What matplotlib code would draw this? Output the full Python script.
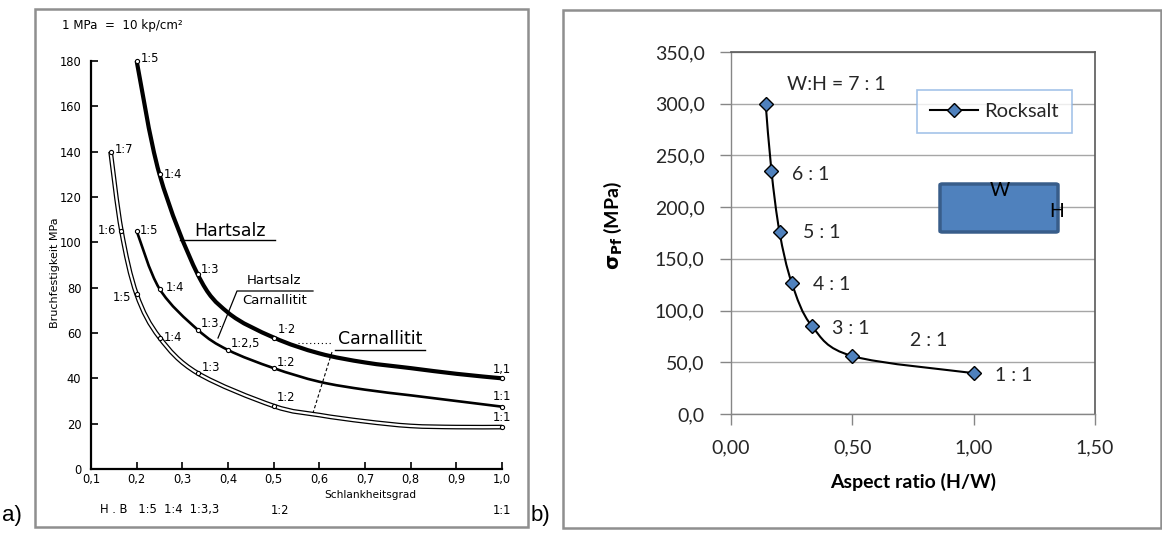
import numpy as np
import matplotlib
matplotlib.use("Agg")
import matplotlib.pyplot as plt
from matplotlib.path import Path
from matplotlib.patches import PathPatch, Rectangle, FancyBboxPatch
from matplotlib.lines import Line2D

W, H, DPI = 1162, 533, 100

# ---------------- data: panel a) (scanned chart) ----------------
a_xticks = [0.1, 0.2, 0.3, 0.4, 0.5, 0.6, 0.7, 0.8, 0.9, 1.0]
a_xticklabels = ["0,1", "0,2", "0,3", "0,4", "0,5", "0,6", "0,7", "0,8", "0,9", "1,0"]
a_yticks = [0, 20, 40, 60, 80, 100, 120, 140, 160, 180]

hart_x = [0.2, 0.25, 1/3, 0.4, 0.5, 0.6, 0.7, 0.8, 0.9, 1.0]
hart_y = [180, 130, 86, 69, 58, 51, 47, 44.5, 42, 40]
hart_lbl = ["1:5", "1:4", "1:3", "", "1·2", "", "", "", "", "1,1"]

hc_x = [0.2, 0.25, 1/3, 0.4, 0.5, 0.6, 0.7, 0.8, 0.9, 1.0]
hc_y = [105, 79.5, 61.5, 52.5, 44.5, 38.5, 35, 32.5, 30, 27.5]
hc_lbl = ["1:5", "1:4", "1:3.", "1:2,5", "1:2", "", "", "", "", "1:1"]

carn_x = [1/7, 1/6, 0.2, 0.25, 1/3, 0.5, 0.6, 0.7, 0.8, 0.9, 1.0]
carn_y = [140, 105, 77, 58, 42.3, 27.8, 23.8, 21, 19, 18.5, 18.5]
carn_lbl = ["1:7", "1:6", "1:5", "1:4", "1:3", "1:2", "", "", "", "", "1:1"]

# ---------------- data: panel b) (Excel chart) ----------------
b_aspect = [1/7, 1/6, 1/5, 1/4, 1/3, 1/2, 1.0]
b_strength = [300, 235, 176, 127, 85, 56, 39.5]
b_labels = ["W:H = 7 : 1", "6 : 1", "5 : 1", "4 : 1", "3 : 1", "2 : 1", "1 : 1"]
b_yticks = [0, 50, 100, 150, 200, 250, 300, 350]
b_xticks = [0.0, 0.5, 1.0, 1.5]
series_name = "Rocksalt"


def fx(x):
    return x / W


def fy(y):
    return 1 - y / H


def smooth_path(xs, ys):
    pts = np.column_stack([xs, ys]).astype(float)
    n = len(pts)
    verts = [pts[0]]
    codes = [Path.MOVETO]
    for i in range(n - 1):
        p0 = pts[i - 1] if i > 0 else pts[i]
        p1 = pts[i]
        p2 = pts[i + 1]
        p3 = pts[i + 2] if i + 2 < n else pts[i + 1]
        verts += [p1 + (p2 - p0) / 6, p2 - (p3 - p1) / 6, p2]
        codes += [Path.CURVE4] * 3
    return Path(verts, codes)


fig = plt.figure(figsize=(W / DPI, H / DPI), dpi=DPI)
fig.patch.set_facecolor("white")

# panel frames
fig.add_artist(Rectangle((fx(35), fy(527)), fx(528 - 35), (527 - 9) / H,
                         transform=fig.transFigure, fill=False,
                         edgecolor="#8f8f8f", lw=1.8))
fig.add_artist(Rectangle((fx(563), fy(528)), fx(1161 - 563), (528 - 10) / H,
                         transform=fig.transFigure, fill=False,
                         edgecolor="#8f8f8f", lw=1.8))

# ================= panel a) =================
SC = "DejaVu Sans"
FS = 8.3
axa = fig.add_axes([fx(91), fy(469), fx(502 - 91), (469 - 61) / H])
axa.set_xlim(0.1, 1.0)
axa.set_ylim(0, 180)
for s in ["top", "right"]:
    axa.spines[s].set_visible(False)
for s in ["left", "bottom"]:
    axa.spines[s].set_linewidth(1.6)
    axa.spines[s].set_color("black")
axa.set_xticks(a_xticks)
axa.set_xticklabels(a_xticklabels, fontsize=FS, family=SC)
axa.set_yticks(a_yticks)
axa.set_yticklabels([str(v) for v in a_yticks], fontsize=FS, family=SC)
axa.tick_params(direction="in", length=5, width=1.2, pad=7)
axa.tick_params(axis="x", pad=3)
axa.patch.set_alpha(0)

# curves
axa.add_patch(PathPatch(smooth_path(hart_x, hart_y), fill=False, lw=3.0,
                        edgecolor="black", transform=axa.transData, clip_on=False))
axa.add_patch(PathPatch(smooth_path(hc_x, hc_y), fill=False, lw=1.9,
                        edgecolor="black", transform=axa.transData, clip_on=False))
axa.add_patch(PathPatch(smooth_path(carn_x, carn_y), fill=False, lw=3.4,
                        edgecolor="black", transform=axa.transData, clip_on=False))
axa.add_patch(PathPatch(smooth_path(carn_x, carn_y), fill=False, lw=1.6,
                        edgecolor="white", transform=axa.transData, clip_on=False))

hart_off = [(4, 2, "left"), (4, 0, "left"), (3, 5, "left"), None, (4, 8, "left"),
            None, None, None, None, (0, 9, "center")]
hc_off = [(3, 1, "left"), (6, 1, "left"), (3, 6, "left"), (3, 7, "left"),
          (3, 6, "left"), None, None, None, None, (0, 10, "center")]
carn_off = [(4, 2, "left"), (-5, 0, "right"), (-5, -3, "right"), (4, 0, "left"),
            (4, 6, "left"), (3, 8, "left"), None, None, None, None, (0, 10, "center")]

for xs, ys, lbls, offs in [(hart_x, hart_y, hart_lbl, hart_off),
                           (hc_x, hc_y, hc_lbl, hc_off),
                           (carn_x, carn_y, carn_lbl, carn_off)]:
    for x, y, t, o in zip(xs, ys, lbls, offs):
        if not t:
            continue
        axa.plot([x], [y], marker="o", ms=3, mfc="white", mec="black", mew=0.8,
                 clip_on=False, zorder=5)
        axa.annotate(t, (x, y), xytext=(o[0], o[1]), textcoords="offset pixels",
                     ha=o[2], va="center", fontsize=FS, family=SC,
                     annotation_clip=False)

# panel a) annotations (figure pixel coords)
fig.text(fx(62), fy(25), "1 MPa  =  10 kp/cm²", fontsize=8.6, family=SC,
         va="center", ha="left")
fig.text(fx(55), fy(273), "Bruchfestigkeit MPa", rotation=90, fontsize=8,
         family=SC, ha="center", va="center")
fig.text(fx(370), fy(495), "Schlankheitsgrad", fontsize=7.6, family=SC,
         ha="center", va="center")
fig.text(fx(100), fy(510), "H . B   1:5  1:4  1:3,3", fontsize=FS, family=SC,
         ha="left", va="center")
fig.text(fx(280), fy(510), "1:2", fontsize=FS, family=SC, ha="center", va="center")
fig.text(fx(502), fy(510), "1:1", fontsize=FS, family=SC, ha="center", va="center")

fig.text(fx(230), fy(231), "Hartsalz", fontsize=12.5, family=SC, ha="center",
         va="center")
fig.add_artist(Line2D([fx(180), fx(275)], [fy(240), fy(240)], color="black", lw=1.0))
fig.text(fx(274), fy(281), "Hartsalz", fontsize=9.5, family=SC, ha="center",
         va="center")
fig.text(fx(275), fy(301), "Carnallitit", fontsize=9.5, family=SC, ha="center",
         va="center")
fig.add_artist(Line2D([fx(313), fx(237), fx(218)], [fy(291), fy(291), fy(338)],
                      color="black", lw=0.9))
fig.text(fx(380), fy(339), "Carnallitit", fontsize=12.5, family=SC, ha="center",
         va="center")
fig.add_artist(Line2D([fx(335), fx(425)], [fy(350), fy(350)], color="black", lw=1.0))
fig.add_artist(Line2D([fx(332), fx(313)], [fy(352), fy(413)], color="black", lw=0.8,
                      ls=(0, (3, 2))))
fig.add_artist(Line2D([fx(298), fx(333)], [fy(343), fy(343)], color="black", lw=0.8,
                      ls=(0, (1, 2.5))))

fig.text(fx(2), fy(516), "a)", fontsize=16, family="Liberation Sans",
         ha="left", va="center")
fig.text(fx(531), fy(516), "b)", fontsize=16, family="Liberation Sans",
         ha="left", va="center")

# ================= panel b) =================
FB = ["Lato", "DejaVu Sans"]
axb = fig.add_axes([fx(731), fy(414), fx(1095 - 731), (414 - 52) / H])
axb.set_xlim(0, 1.5)
axb.set_ylim(0, 350)
axb.set_yticks(b_yticks)
axb.set_yticklabels([f"{v:.1f}".replace(".", ",") for v in b_yticks],
                    fontsize=14, family=FB, color="#262626")
axb.set_xticks(b_xticks)
axb.set_xticklabels([f"{v:.2f}".replace(".", ",") for v in b_xticks],
                    fontsize=14, family=FB, color="#262626")
axb.tick_params(direction="out", length=8, width=1, color="#868686", pad=11)
axb.tick_params(axis="x", pad=10)
axb.yaxis.grid(True, color="#a6a6a6", lw=1)
axb.set_axisbelow(True)
for s in ["left", "bottom"]:
    axb.spines[s].set_color("#868686")
    axb.spines[s].set_linewidth(1)
for s in ["top", "right"]:
    axb.spines[s].set_color("#595959")
    axb.spines[s].set_linewidth(1.2)

axb.add_patch(PathPatch(smooth_path(b_aspect, b_strength), fill=False, lw=1.5,
                        edgecolor="black", transform=axb.transData, zorder=3))
axb.plot(b_aspect, b_strength, ls="none", marker="D", ms=7, mfc="#4F81BD",
         mec="black", mew=1.0, zorder=4)

b_off = [(21, 19), (21, -4), (23, -1), (21, -2), (20, -2), (58, 16), (21, -2)]
for x, y, t, o in zip(b_aspect, b_strength, b_labels, b_off):
    axb.annotate(t, (x, y), xytext=o, textcoords="offset pixels", ha="left",
                 va="center", fontsize=14, family=FB, color="#262626")

handle = Line2D([], [], color="black", lw=1.5, marker="D", ms=7, mfc="#4F81BD",
                mec="black", mew=1.0)
leg = axb.legend([handle], [series_name], loc="upper left",
                 bbox_to_anchor=(fx(917), fy(90)), bbox_transform=fig.transFigure,
                 prop={"family": FB, "size": 14.5}, fancybox=False, frameon=True,
                 borderpad=0.65, handlelength=2.4, handletextpad=0.3,
                 borderaxespad=0)
leg.get_frame().set_edgecolor("#8EB4E3")
leg.get_frame().set_linewidth(1.2)
for t in leg.get_texts():
    t.set_color("#262626")

fig.add_artist(FancyBboxPatch((fx(940), fy(232)), fx(1058 - 940), (232 - 184) / H,
                              boxstyle="round,pad=0,rounding_size=0.002",
                              transform=fig.transFigure, facecolor="#4F81BD",
                              edgecolor="#385D8A", lw=2.5, zorder=5))
fig.text(fx(1000), fy(191), "W", fontsize=14, family=FB, ha="center", va="center",
         zorder=6)
fig.text(fx(1057), fy(211), "H", fontsize=14, family=FB, ha="center", va="center",
         zorder=6)

fig.text(fx(613), fy(226), r"$\mathbf{\sigma_{Pf}}$ (MPa)", rotation=90,
         fontsize=14, family=FB, fontweight="bold", ha="center", va="center")
fig.text(fx(913), fy(482), "Aspect ratio (H/W)", fontsize=14, family=FB,
         fontweight="bold", ha="center", va="center")

fig.savefig("out.png", dpi=DPI, facecolor="white")
